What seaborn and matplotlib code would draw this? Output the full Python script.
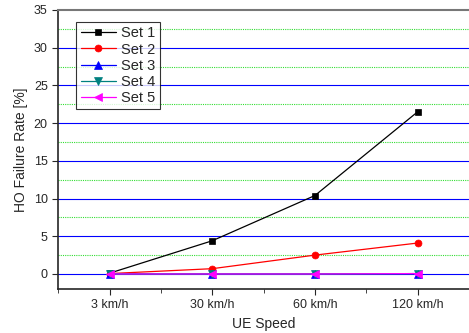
import numpy as np
import pandas as pd
import matplotlib
matplotlib.use('Agg')
import matplotlib.pyplot as plt
import seaborn as sns
from matplotlib.ticker import MultipleLocator

# data
speeds = ['3 km/h', '30 km/h', '60 km/h', '120 km/h']
set1 = [0.1, 4.4, 10.4, 21.5]
set2 = [0.05, 0.7, 2.5, 4.1]
set3 = [0.0, 0.0, 0.0, 0.05]
set4 = [0.0, 0.0, 0.0, 0.05]
set5 = [0.0, 0.0, 0.0, 0.05]

series = {'Set 1': set1, 'Set 2': set2, 'Set 3': set3, 'Set 4': set4, 'Set 5': set5}
rows = []
for name, vals in series.items():
    for i, v in enumerate(vals):
        rows.append({'pos': i, 'speed': speeds[i], 'rate': v, 'set': name})
df = pd.DataFrame(rows)

sns.set_style('ticks')
plt.rcParams['font.family'] = ['Liberation Sans', 'DejaVu Sans']

fig = plt.figure(figsize=(4.69, 3.33), dpi=100)
ax = fig.add_axes([0.124, 0.132, 0.876, 0.838])

# grid
for y in np.arange(0, 35, 5):
    ax.axhline(y, color='#0000ff', lw=0.8, zorder=0)
for y in np.arange(2.5, 35, 5):
    ax.axhline(y, color='#33dd33', lw=0.8, ls=(0, (1, 1)), zorder=0)

colors = ['black', 'red', 'blue', '#008080', 'magenta']
markers = ['s', 'o', '^', 'v', '<']
sizes = [4, 5, 6, 6, 6]
for (name, c, m, ms) in zip(series.keys(), colors, markers, sizes):
    sub = df[df['set'] == name]
    sns.lineplot(data=sub, x='pos', y='rate', ax=ax, color=c, marker=m,
                 markersize=ms, markeredgecolor=c, markeredgewidth=0.5,
                 lw=0.9, label=name)

ax.set_xlim(-0.5, 3.5)
ax.set_ylim(-2, 35)
ax.set_xticks(range(len(speeds)))
ax.set_xticklabels(speeds)
ax.xaxis.set_minor_locator(MultipleLocator(0.5))
ax.yaxis.set_major_locator(MultipleLocator(5))
ax.tick_params(axis='both', labelsize=9, direction='out', length=4)
ax.tick_params(axis='x', which='minor', length=3)
ax.set_xlabel('UE Speed', fontsize=10)
ax.set_ylabel('HO Failure Rate [%]', fontsize=10)

for s in ['left', 'bottom']:
    ax.spines[s].set_linewidth(1.2)
ax.spines['top'].set_color('#777777')
ax.spines['top'].set_linewidth(1.5)
ax.spines['right'].set_visible(False)

leg = ax.legend(loc='upper left', bbox_to_anchor=(0.044, 0.957), fontsize=10.5,
                frameon=True, fancybox=False, edgecolor='black',
                handlelength=2.4, labelspacing=0.15, borderpad=0.3,
                handletextpad=0.4, borderaxespad=0)
leg.get_frame().set_linewidth(0.8)

fig.savefig('out.png', dpi=100)
